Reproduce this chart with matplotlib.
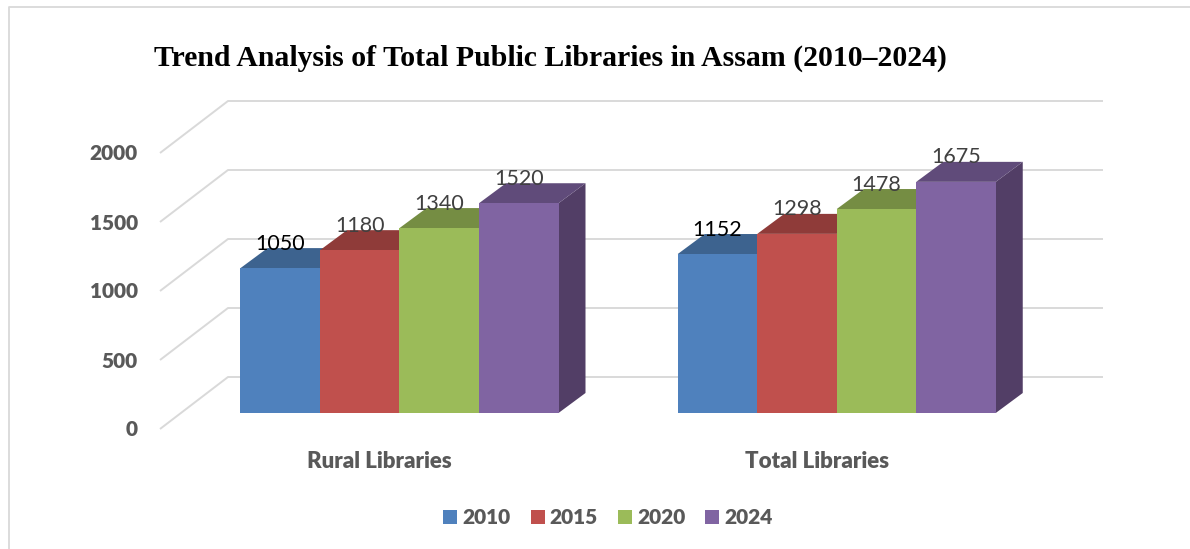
import matplotlib
matplotlib.use('Agg')
from matplotlib import pyplot as plt
from matplotlib.patches import Polygon

categories = ['Rural Libraries', 'Total Libraries']
years = ['2010', '2015', '2020', '2024']
rural = [1050, 1180, 1340, 1520]
total = [1152, 1298, 1478, 1675]
yticks = [0, 500, 1000, 1500, 2000]

front_colors = ['#4F81BD', '#C0504D', '#9BBB59', '#8064A2']
top_colors = ['#3D638F', '#8F3B39', '#758D43', '#604B7A']
side_color = '#523E66'
label_colors = ['black', '#404040', '#404040', '#404040']
grid_color = '#D9D9D9'
text_color = '#595959'

W, H = 1190, 549
PX_X = 79.5    # pixels per bar
PX_Y = 0.138   # pixels per value
X0 = 399.5     # pixel of first group centre
Y0 = 413       # pixel of bar base

fig = plt.figure(figsize=(W / 100, H / 100), dpi=100)
ax = fig.add_axes([0, 0, 1, 1])
ax.set_xlim(-X0 / PX_X, (W - X0) / PX_X)
ax.set_ylim((Y0 - H) / PX_Y, Y0 / PX_Y)
ax.axis('off')

sans = ['Lato', 'DejaVu Sans']

# offsets of the 3d look, in data units
bar_dx, bar_dy = 27 / PX_X, 20 / PX_Y
wall_x, wall_y = 68 / PX_X, 52 / PX_Y
front_x, front_y = (240.5 - 160 - 0) / PX_X, -16 / PX_Y
wall_right = (1103 - 228) / PX_X

# back wall grid and floor lines
for v in yticks:
    x_start = -2 - front_x
    y_start = v + front_y
    ax.plot([x_start, x_start + wall_x, x_start + wall_x + wall_right],
            [y_start, y_start + wall_y, y_start + wall_y],
            color=grid_color, lw=1.4, solid_capstyle='butt', zorder=1)
    ax.text(x_start - 22 / PX_X, v + (413 - 430) / PX_Y, str(v), ha='right', va='center',
            fontsize=15, fontweight='heavy', color=text_color, family=sans)

# bars, left to right so each one covers the side of the one before
for centre, values, cat in zip([0, 5.5], [rural, total], categories):
    for i, v in enumerate(values):
        left = centre - 2 + i
        right = left + 1
        ax.add_patch(Polygon([(right, 0), (right + bar_dx, bar_dy), (right + bar_dx, v + bar_dy), (right, v)],
                             closed=True, fc=side_color, ec='none', zorder=2))
        ax.add_patch(Polygon([(left, v), (left + bar_dx, v + bar_dy), (right + bar_dx, v + bar_dy), (right, v)],
                             closed=True, fc=top_colors[i], ec='none', zorder=2))
        ax.bar(left + 0.5, v, width=1, color=front_colors[i], zorder=2)
    for i, v in enumerate(values):
        ax.text(centre - 1.5 + i, v + 24.5 / PX_Y, str(v), ha='center', va='center',
                fontsize=15.5, color=label_colors[i], family=sans, zorder=3)
    ax.text(centre - 0.25, -49 / PX_Y, cat, ha='center', va='center',
            fontsize=16, fontweight='heavy', color=text_color, family=sans)

# chart frame, only top and left show
ax.plot([9 / W, 9 / W, 1], [0, 1 - 7 / H, 1 - 7 / H], transform=ax.transAxes,
        color=grid_color, lw=1.3, clip_on=False)

fig.text(154 / W, 1 - 58 / H, 'Trend Analysis of Total Public Libraries in Assam (2010\u20132024)',
         ha='left', va='center', fontsize=21.4, fontweight='bold', color='black', family='Liberation Serif')

handles = [plt.Rectangle((0, 0), 1, 1, fc=c, ec='none') for c in front_colors]
leg = fig.legend(handles, years, loc='center', bbox_to_anchor=(608 / W, 1 - 518 / H), ncol=4,
                 frameon=False, handlelength=0.67, handleheight=0.67, handletextpad=0.25,
                 columnspacing=0.95, borderpad=0, prop={'family': sans, 'weight': 'heavy', 'size': 15})
for t in leg.get_texts():
    t.set_color(text_color)

fig.savefig('out.png', dpi=100)
